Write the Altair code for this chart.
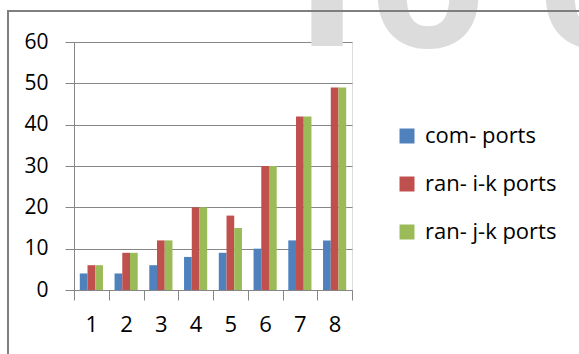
import altair as alt
import pandas as pd

categories = ["1", "2", "3", "4", "5", "6", "7", "8"]
series_names = ["com- ports", "ran- i-k ports", "ran- j-k ports"]
com_ports = [4, 4, 6, 8, 9, 10, 12, 12]
ran_ik_ports = [6, 9, 12, 20, 18, 30, 42, 49]
ran_jk_ports = [6, 9, 12, 20, 15, 30, 42, 49]
colors = ["#4F81BD", "#C0504D", "#9BBB59"]
y_ticks = [0, 10, 20, 30, 40, 50, 60]

rows = []
for name, vals in zip(series_names, [com_ports, ran_ik_ports, ran_jk_ports]):
    for c, v in zip(categories, vals):
        rows.append({"cat": c, "series": name, "value": v})
df = pd.DataFrame(rows)

FONT = "Open Sans"
GRAY = "#868686"
W, H = 278, 248
L, T = 74, 42

one = pd.DataFrame({"a": [0]})

border = alt.Chart(one).mark_rect(fillOpacity=0, stroke="#7f7f7f", strokeWidth=2).encode(
    x=alt.value(8 - L), y=alt.value(11 - T), x2=alt.value(600 - L), y2=alt.value(380 - T)
)

WM = dict(font="Open Sans", fontWeight="bold", fontSize=190, color="#dcdcdc", baseline="alphabetic")
wm_r = alt.Chart(one).mark_text(text="r", align="left", fontSize=210,
                                font="Open Sans", fontWeight="bold", color="#dcdcdc",
                                baseline="alphabetic").encode(
    x=alt.value(295 - L), y=alt.value(46 - T))
wm_o1 = alt.Chart(one).mark_text(text="o", align="center", **WM).encode(
    x=alt.value(428 - L), y=alt.value(47 - T))
wm_o2 = alt.Chart(one).mark_text(text="o", align="center", **WM).encode(
    x=alt.value(596 - L), y=alt.value(47 - T))

bars = alt.Chart(df).mark_bar().encode(
    x=alt.X("cat:N", sort=categories, title=None,
            scale=alt.Scale(paddingInner=0, paddingOuter=0),
            axis=alt.Axis(labelAngle=0, tickBand="extent", tickSize=10, tickColor=GRAY,
                          domainColor=GRAY, labelFont=FONT, labelFontSize=22, labelColor="#000",
                          labelPadding=14, grid=False)),
    xOffset=alt.XOffset("series:N", sort=series_names,
                        scale=alt.Scale(paddingInner=0, paddingOuter=0.75)),
    y=alt.Y("value:Q", title=None,
            scale=alt.Scale(domain=[0, 60], nice=False),
            axis=alt.Axis(values=y_ticks, tickSize=9, tickColor=GRAY, domainColor=GRAY,
                          gridColor=GRAY, labelFont=FONT, labelFontSize=21, labelColor="#000",
                          labelPadding=17)),
    color=alt.Color("series:N", sort=series_names,
                    scale=alt.Scale(domain=series_names, range=colors),
                    legend=alt.Legend(title=None, orient="none", legendX=322, legendY=83,
                                      symbolType="square", symbolSize=225, symbolStrokeWidth=0,
                                      labelFont=FONT, labelFontSize=22, labelColor="#000",
                                      rowPadding=26, padding=0, labelOffset=7)),
)

chart = alt.layer(wm_r, wm_o1, wm_o2, border, bars).properties(
    width=W, height=H,
    autosize=alt.AutoSizeParams(type="none"),
    padding={"left": L, "top": T, "right": 579 - L - W, "bottom": 354 - T - H},
).configure_view(stroke=None).configure(background="white")

chart.save("out.html", embed_options={"renderer": "svg", "actions": False})
